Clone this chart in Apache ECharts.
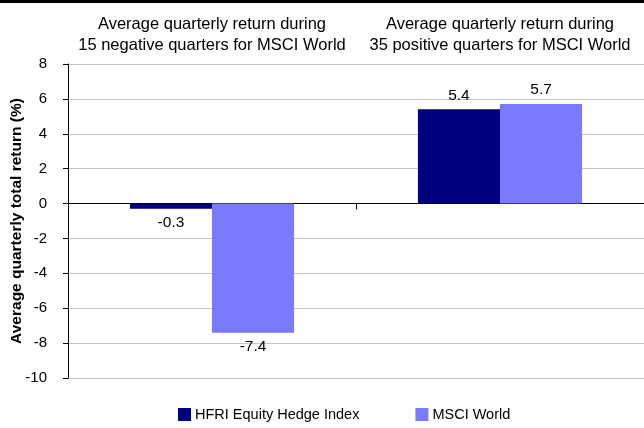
<!DOCTYPE html>
<html lang="en">
<head>
  <meta charset="utf-8">
  <title>Average quarterly return</title>
  <script src="https://cdn.jsdelivr.net/npm/echarts@6/dist/echarts.min.js"></script>
  <style>
    html, body { margin: 0; padding: 0; background: #fff; }
    #chart { width: 644px; height: 428px; }
  </style>
</head>
<body>
<div id="chart"></div>
<script>
  // categories (shown as headings above the plot)
  var categories = [
    'Average quarterly return during\n15 negative quarters for MSCI World',
    'Average quarterly return during\n35 positive quarters for MSCI World'
  ];
  var seriesNames = ['HFRI Equity Hedge Index', 'MSCI World'];
  var hfriValues = [-0.3, 5.4];
  var msciValues = [-7.4, 5.7];
  var colors = ['#000080', '#7a7aff'];

  var font = 'Arial, "Liberation Sans", sans-serif';
  var chart = echarts.init(document.getElementById('chart'));

  function makeSeries(name, values) {
    return {
      name: name,
      type: 'bar',
      barGap: 0,
      barCategoryGap: '43%',
      xAxisIndex: 0,
      data: values,
      label: {
        show: true,
        position: 'outside',
        distance: 6,
        color: '#000',
        fontFamily: font,
        fontSize: 15.5,
        formatter: function (p) { return p.value.toFixed(1); }
      }
    };
  }

  var option = {
    animation: false,
    color: colors,
    textStyle: { fontFamily: font },
    graphic: [{
      type: 'rect',
      left: 0, top: 0,
      shape: { width: 644, height: 3 },
      style: { fill: '#000' }
    }],
    legend: {
      bottom: 1,
      left: 173,
      itemWidth: 13,
      itemHeight: 13,
      itemGap: 56,
      icon: 'rect',
      textStyle: { fontSize: 14.5, color: '#000', fontFamily: font, padding: [0, 0, 0, -1] },
      data: seriesNames
    },
    grid: { left: 68, right: 0, top: 64, bottom: 50, outerBoundsMode: 'none' },
    xAxis: [
      {
        type: 'category',
        data: categories,
        position: 'bottom',
        axisLine: { onZero: true, lineStyle: { color: '#000', width: 1 } },
        axisTick: { show: true, length: 6, lineStyle: { color: '#000' } },
        axisLabel: { show: false }
      },
      {
        type: 'category',
        data: categories,
        position: 'top',
        axisLine: { show: false },
        axisTick: { show: false },
        axisLabel: {
          interval: 0,
          margin: 8,
          fontSize: 16.5,
          lineHeight: 21,
          color: '#000',
          fontFamily: font
        }
      }
    ],
    yAxis: {
      type: 'value',
      min: -10,
      max: 8,
      interval: 2,
      name: 'Average quarterly total return (%)',
      nameLocation: 'middle',
      nameGap: 43,
      nameMoveOverlap: false,
      nameTextStyle: { fontSize: 15.5, fontWeight: 'bold', color: '#000', fontFamily: font },
      axisLine: { show: true, lineStyle: { color: '#000' } },
      axisTick: { show: true, length: 5, lineStyle: { color: '#000' } },
      axisLabel: { margin: 21, fontSize: 15, color: '#000', fontFamily: font },
      splitLine: { lineStyle: { color: '#c6c6c6', width: 1 } }
    },
    series: [
      makeSeries(seriesNames[0], hfriValues),
      makeSeries(seriesNames[1], msciValues)
    ]
  };
  chart.setOption(option);
</script>
</body>
</html>
